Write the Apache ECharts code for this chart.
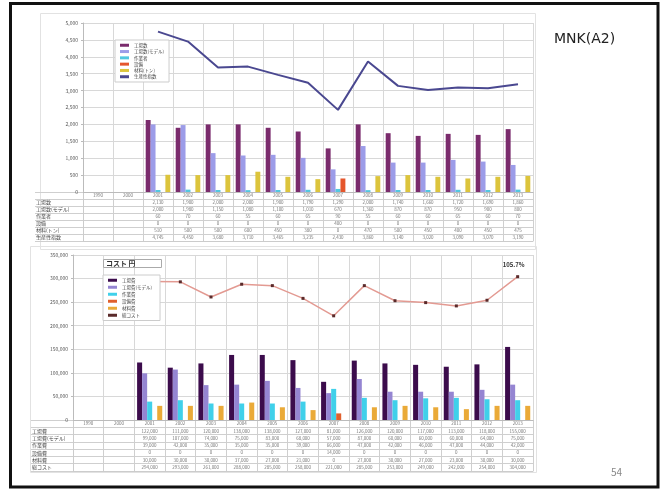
<!DOCTYPE html>
<html><head><meta charset="utf-8">
<script src="https://cdn.jsdelivr.net/npm/echarts@6/dist/echarts.min.js"></script>
<style>html,body{margin:0;padding:0;background:#fff}#c{width:666px;height:490px}</style>
</head><body><div id="c"></div>
<script>
// ---------- data ----------
const categories = ['1990','2000','2001','2002','2003','2004','2005','2006','2007','2008','2009','2010','2011','2012','2013'];

// top chart
const topNames = ['工場数','工場数(モデル)','作業者','設備','材料(トン)','生産性指数'];
const topA = [null,null,2130,1900,2000,2000,1900,1790,1290,2000,1740,1660,1720,1690,1860];
const topB = [null,null,2000,1980,1150,1080,1100,1010,670,1360,870,870,950,900,800];
const topC = [null,null,60,70,60,55,60,65,90,55,60,60,65,60,70];
const topD = [null,null,0,0,0,0,0,0,400,0,0,0,0,0,0];
const topE = [null,null,510,500,500,600,450,380,0,470,500,450,400,450,475];
const topLine = [null,null,4745,4450,3680,3710,3465,3235,2430,3860,3140,3020,3090,3070,3190];
const topNote = '87.0%';

// bottom chart
const botTitle = 'コスト 円';
const botNames = ['工場費','工場費(モデル)','作業費','設備費','材料費','総コスト'];
const botA = [null,null,122000,111000,120000,138000,138000,127000,81000,126000,120000,117000,113000,118000,155000];
const botB = [null,null,99000,107000,74000,75000,83000,68000,57000,87000,60000,60000,60000,64000,75000];
const botC = [null,null,39000,42000,35000,35000,35000,39000,66000,47000,42000,46000,47000,44000,42000];
const botD = [null,null,0,0,0,0,0,0,14000,0,0,0,0,0,0];
const botE = [null,null,30000,30000,30000,37000,27000,21000,0,27000,30000,27000,23000,30000,30000];
const botLine = [null,null,294000,293000,261000,288000,285000,258000,221000,285000,253000,249000,242000,254000,304000];
const botNote = '105.7%';

const slideTitle = 'MNK(A2)';
const pageNo = '54';

// ---------- styles ----------
const topColors = ['#7a2b6c','#9c9ce8','#52c7e0','#e5562c','#dcc43c','#4a4890'];
const botColors = ['#3c0c4c','#9585d2','#40d0ea','#e0602e','#eaaa38','#e39a92'];
const gridC = '#d8d8d8';
const fmt = v => (v===null||v===undefined) ? '' : Math.round(v).toLocaleString('en-US');

function tableData(arrs){
  const d = [];
  categories.forEach((c,i)=>{
    d.push([i,0,c]);
    arrs.forEach((a,j)=>{ if(a[i]!==null) d.push([i,j+1,fmt(a[i])]); });
  });
  return d;
}

const chart = echarts.init(document.getElementById('c'), null, {renderer:'canvas'});

function valAxis(gi, max, interval){
  return {type:'value', gridIndex:gi, min:0, max:max, interval:interval,
    axisLine:{show:true,lineStyle:{color:'#bbb'}}, axisTick:{show:true,length:2,lineStyle:{color:'#bbb'}},
    axisLabel:{fontSize:5,color:'#555',margin:5,formatter:fmt},
    splitLine:{show:true,lineStyle:{color:gridC,width:1}}};
}
function catAxis(gi){
  return {type:'category', gridIndex:gi, data:categories,
    axisLine:{show:true,lineStyle:{color:'#bbb'}}, axisTick:{show:false},
    axisLabel:{show:false}, splitLine:{show:true,interval:0,lineStyle:{color:gridC}}};
}
function tblX(gi){
  return {type:'category', gridIndex:gi, data:categories, position:'bottom',
    axisLine:{show:true,lineStyle:{color:'#ccc'}}, axisTick:{show:false},
    axisLabel:{show:false}, splitLine:{show:true,interval:0,lineStyle:{color:'#cfcfcf'}}};
}
function tblY(gi, names, margin, tick){
  return {type:'category', gridIndex:gi, data:[''].concat(names), inverse:true,
    axisLine:{show:true,lineStyle:{color:'#ccc'}},
    axisTick:{show:true,interval:0,length:tick,alignWithLabel:false,lineStyle:{color:'#cfcfcf'}},
    axisLabel:{fontSize:5,color:'#444',align:'left',margin:margin,interval:0},
    splitLine:{show:true,interval:0,lineStyle:{color:'#cfcfcf'}}};
}
function bars(names, arrs, colors, xi, yi){
  return arrs.map((a,k)=>({type:'bar', name:names[k], xAxisIndex:xi, yAxisIndex:yi, data:a,
    barGap:'0%', barCategoryGap:'18%', itemStyle:{color:colors[k]}, silent:true}));
}

const option = {
  animation:false,
  backgroundColor:'#ffffff',
  textStyle:{fontFamily:'"Noto Sans CJK JP","Noto Sans",sans-serif'},
  title:[
    {text:slideTitle, left:549, top:27, textStyle:{fontSize:14,fontWeight:'normal',color:'#222',fontFamily:'"DejaVu Sans","Noto Sans CJK JP",sans-serif'}},
    {text:pageNo, left:606, top:462, textStyle:{fontSize:10,fontWeight:'normal',color:'#888'}},
    {text:botTitle, left:103, top:259, padding:[1,26,1,3], borderColor:'#aaa', borderWidth:1, backgroundColor:'#fff',
     textStyle:{fontSize:7,fontWeight:'bold',color:'#333'}}
  ],
  legend:[
    {data:topNames, left:115, top:40, orient:'vertical', itemWidth:9, itemHeight:3, itemGap:1.8,
     padding:[3,5], backgroundColor:'#fff', borderColor:'#ccc', borderWidth:1,
     textStyle:{fontSize:4.5,color:'#444'}, icon:'rect', selectedMode:false},
    {data:botNames, left:103, top:275, orient:'vertical', itemWidth:9, itemHeight:3, itemGap:2.5,
     padding:[3,8,3,5], backgroundColor:'#fff', borderColor:'#ccc', borderWidth:1,
     textStyle:{fontSize:4.5,color:'#444'}, icon:'rect', selectedMode:false}
  ],
  grid:[
    {left:83, top:23, width:450, height:169},
    {left:83, top:192, width:450, height:49},
    {left:73, top:255, width:460, height:165},
    {left:73, top:420, width:460, height:51}
  ],
  xAxis:[catAxis(0), tblX(1), catAxis(2), tblX(3)],
  yAxis:[valAxis(0,5000,500), tblY(1,topNames,47,48), valAxis(2,350000,50000), tblY(3,botNames,41,42)],
  graphic:[
    {type:'rect', shape:{x:10.5,y:3.5,width:647.5,height:483.5}, style:{fill:null,stroke:'#111',lineWidth:3}, z:100},
    {type:'rect', shape:{x:40.5,y:13.5,width:495,height:236}, style:{fill:null,stroke:'#e2e2e2',lineWidth:1}},
    {type:'rect', shape:{x:30.5,y:246.5,width:506,height:226}, style:{fill:null,stroke:'#e2e2e2',lineWidth:1}}
  ],
  series: [].concat(
    bars(topNames, [topA,topB,topC,topD,topE], topColors, 0, 0),
    [{type:'line', name:topNames[5], xAxisIndex:0, yAxisIndex:0, data:topLine, symbol:'none',
      lineStyle:{color:topColors[5],width:2}, itemStyle:{color:topColors[5]},
      label:{show:true, position:'top', offset:[-6,-6], fontSize:6, fontWeight:'bold', color:'#333',
        formatter:p=>p.dataIndex===categories.length-1?topNote:''}},
     {type:'scatter', xAxisIndex:1, yAxisIndex:1, data:tableData([topA,topB,topC,topD,topE,topLine]), symbolSize:0,
      label:{show:true, position:'inside', fontSize:4.5, color:'#555', formatter:p=>p.data[2]}, silent:true}],
    bars(botNames, [botA,botB,botC,botD,botE], botColors, 2, 2),
    [{type:'line', name:botNames[5], xAxisIndex:2, yAxisIndex:2, data:botLine, symbol:'rect', symbolSize:3,
      lineStyle:{color:botColors[5],width:1.5}, itemStyle:{color:'#5a2a2a'},
      label:{show:true, position:'top', offset:[-4,-2], fontSize:6, fontWeight:'bold', color:'#333',
        formatter:p=>p.dataIndex===categories.length-1?botNote:''}},
     {type:'scatter', xAxisIndex:3, yAxisIndex:3, data:tableData([botA,botB,botC,botD,botE,botLine]), symbolSize:0,
      label:{show:true, position:'inside', fontSize:4.5, color:'#555', formatter:p=>p.data[2]}, silent:true}]
  )
};
chart.setOption(option);
</script>
</body></html>
